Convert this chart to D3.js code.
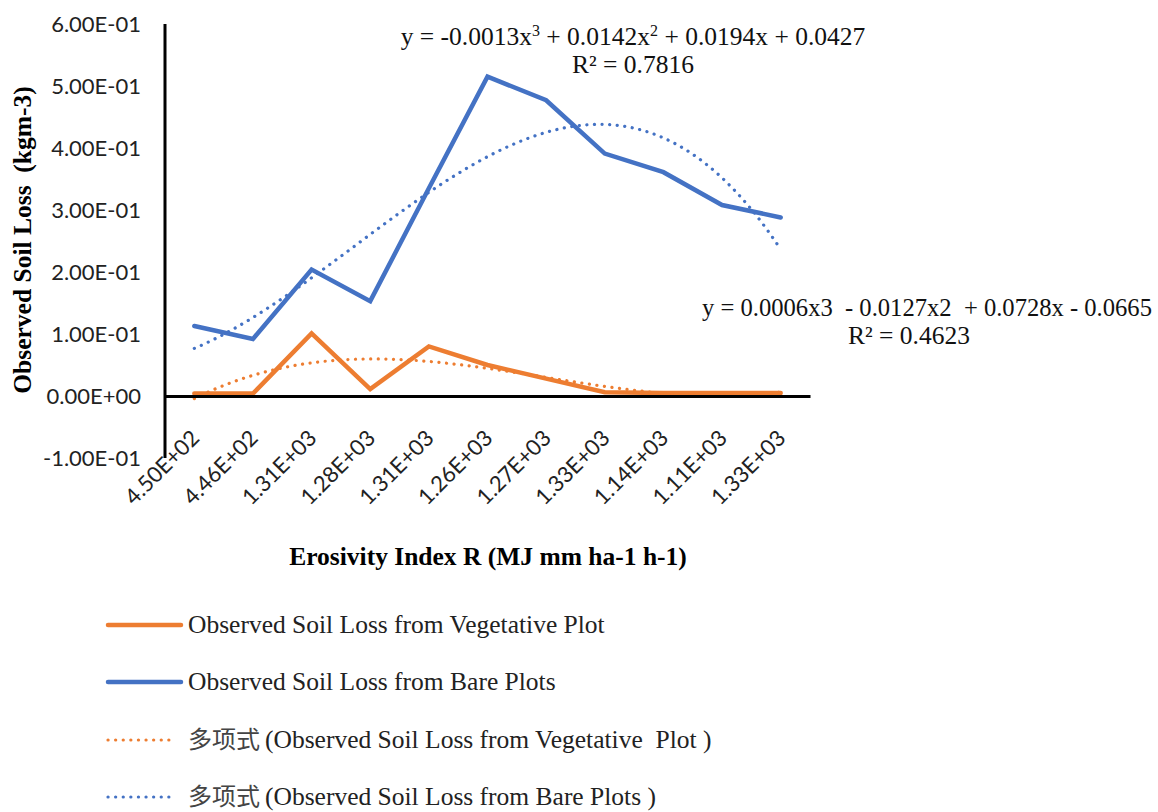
<!DOCTYPE html>
<html>
<head>
	<meta charset="utf-8">
	<title>Observed Soil Loss</title>
	<script src="https://d3js.org/d3.v7.min.js"></script>
	<style>
		body { margin: 0; background: #fff; }
	</style>
</head>
<body>
<section id="container"></section>
<script>

//Chart data
var categories = ["4.50E+02","4.46E+02","1.31E+03","1.28E+03","1.31E+03","1.26E+03","1.27E+03","1.33E+03","1.14E+03","1.11E+03","1.33E+03"];
var vegetative = [0.004, 0.004, 0.101, 0.011, 0.080, 0.050, 0.028, 0.006, 0.005, 0.005, 0.005];
var bare = [0.113, 0.092, 0.204, 0.153, 0.335, 0.515, 0.477, 0.391, 0.361, 0.308, 0.288];
var yTicks = [-0.1, 0, 0.1, 0.2, 0.3, 0.4, 0.5, 0.6];
var yTickLabels = ["-1.00E-01","0.00E+00","1.00E-01","2.00E-01","3.00E-01","4.00E-01","5.00E-01","6.00E-01"];
var legendLabels = ["Observed Soil Loss from Vegetative Plot","Observed Soil Loss from Bare Plots","多项式 (Observed Soil Loss from Vegetative  Plot )","多项式 (Observed Soil Loss from Bare Plots )"];

var orange = "#ED7D31";
var blue = "#4472C4";
var serif = "'Liberation Serif', 'Times New Roman', serif";
var sans = "Lato, 'Liberation Sans', sans-serif";
var textSize = 25.5;
var dots = "0.1 7.5";

var width = 1158, height = 812;

var svg = d3.select("#container")
	.append("svg")
	.attr("width", width)
	.attr("height", height);

//Scales
var x = d3.scaleBand()
	.domain(d3.range(categories.length))
	.range([165, 810]);

var y = d3.scaleLinear()
	.domain([-0.1, 0.6])
	.range([458, 24]);

var cx = function(i) { return x(i) + x.bandwidth() / 2; };

//Cubic least squares fit (Excel polynomial trendline, order 3)
var polyFit = function(vals) {
	var n = 4, A = [], b = [];
	for (var r = 0; r < n; r++) {
		A.push([]);
		b.push(0);
		for (var c = 0; c < n; c++) A[r].push(0);
	}
	vals.forEach(function(v, i) {
		var xi = i + 1;
		for (var r = 0; r < n; r++) {
			for (var c = 0; c < n; c++) A[r][c] += Math.pow(xi, r + c);
			b[r] += v * Math.pow(xi, r);
		}
	});
	//gaussian elimination
	for (var k = 0; k < n; k++) {
		for (var r = k + 1; r < n; r++) {
			var f = A[r][k] / A[k][k];
			for (var c = k; c < n; c++) A[r][c] -= f * A[k][c];
			b[r] -= f * b[k];
		}
	}
	var coef = [0, 0, 0, 0];
	for (var k = n - 1; k >= 0; k--) {
		var s = b[k];
		for (var c = k + 1; c < n; c++) s -= A[k][c] * coef[c];
		coef[k] = s / A[k][k];
	}
	return function(t) {
		return coef[0] + coef[1] * t + coef[2] * t * t + coef[3] * t * t * t;
	};
};

//Y axis tick labels
var yAxis = d3.axisLeft(y)
	.tickValues(yTicks)
	.tickSize(0)
	.tickPadding(24)
	.tickFormat(function(d, i) { return yTickLabels[i]; });

var gy = svg.append("g")
	.attr("transform", "translate(165,0)")
	.call(yAxis);
gy.select(".domain").remove();
gy.selectAll("text")
	.attr("font-family", sans)
	.attr("font-size", 22)
	.attr("fill", "#222");

//Trend lines
var fitLine = d3.line()
	.x(function(d) { return x(0) + x.bandwidth() / 2 + (d.t - 1) * x.step(); })
	.y(function(d) { return y(d.v); });

var drawTrend = function(vals, color) {
	var f = polyFit(vals);
	var pts = d3.range(1, vals.length + 0.001, 0.05).map(function(t) {
		return { t: t, v: f(t) };
	});
	svg.append("path")
		.datum(pts)
		.attr("d", fitLine)
		.attr("fill", "none")
		.attr("stroke", color)
		.attr("stroke-width", 3.2)
		.attr("stroke-linecap", "round")
		.attr("stroke-dasharray", dots);
};

//Series lines
var seriesLine = d3.line()
	.x(function(d, i) { return cx(i); })
	.y(function(d) { return y(d); });

var drawSeries = function(vals, color) {
	svg.append("path")
		.datum(vals)
		.attr("d", seriesLine)
		.attr("fill", "none")
		.attr("stroke", color)
		.attr("stroke-width", 4.5)
		.attr("stroke-linecap", "round");
};

drawSeries(bare, blue);
drawTrend(bare, blue);
drawSeries(vegetative, orange);
drawTrend(vegetative, orange);

//Axis lines
svg.append("line")
	.attr("x1", 165).attr("x2", 165)
	.attr("y1", y(0.6)).attr("y2", y(-0.1))
	.attr("stroke", "#000").attr("stroke-width", 3);

var xAxis = d3.axisBottom(x)
	.tickSize(0)
	.tickPadding(0)
	.tickFormat(function(d) { return categories[d]; });

var gx = svg.append("g")
	.attr("transform", "translate(0," + y(0) + ")")
	.call(xAxis);
gx.select(".domain")
	.attr("stroke", "#000")
	.attr("stroke-width", 3);
gx.selectAll("text")
	.attr("font-family", sans)
	.attr("font-size", 22)
	.attr("fill", "#222")
	.attr("text-anchor", "end")
	.attr("dy", "0.35em")
	.attr("transform", "translate(1,38) rotate(-45)");

//Axis titles
svg.append("text")
	.attr("transform", "translate(31,240) rotate(-90)")
	.attr("text-anchor", "middle")
	.attr("font-family", serif)
	.attr("font-weight", "bold")
	.attr("font-size", textSize)
	.attr("xml:space", "preserve")
	.text("Observed Soil Loss  (kgm-3)");

svg.append("text")
	.attr("x", 488)
	.attr("y", 565)
	.attr("text-anchor", "middle")
	.attr("font-family", serif)
	.attr("font-weight", "bold")
	.attr("font-size", textSize)
	.text("Erosivity Index R (MJ mm ha-1 h-1)");

//Trendline equations
var eq1 = svg.append("text")
	.attr("x", 633)
	.attr("y", 45)
	.attr("text-anchor", "middle")
	.attr("font-family", serif)
	.attr("font-size", textSize)
	.attr("fill", "#111")
	.attr("xml:space", "preserve");
eq1.append("tspan").text("y = -0.0013x");
eq1.append("tspan").attr("dy", -9).attr("font-size", 16).text("3");
eq1.append("tspan").attr("dy", 9).text(" + 0.0142x");
eq1.append("tspan").attr("dy", -9).attr("font-size", 16).text("2");
eq1.append("tspan").attr("dy", 9).text(" + 0.0194x + 0.0427");

svg.append("text")
	.attr("x", 633)
	.attr("y", 73)
	.attr("text-anchor", "middle")
	.attr("font-family", serif)
	.attr("font-size", textSize)
	.attr("fill", "#111")
	.text("R² = 0.7816");

svg.append("text")
	.attr("x", 927)
	.attr("y", 316)
	.attr("text-anchor", "middle")
	.attr("font-family", serif)
	.attr("font-size", 24.6)
	.attr("fill", "#111")
	.attr("xml:space", "preserve")
	.text("y = 0.0006x3  - 0.0127x2  + 0.0728x - 0.0665");

svg.append("text")
	.attr("x", 909)
	.attr("y", 344)
	.attr("text-anchor", "middle")
	.attr("font-family", serif)
	.attr("font-size", textSize)
	.attr("fill", "#111")
	.text("R² = 0.4623");

//Legend
var legendY = [625, 682, 740, 797];
var legendColor = [orange, blue, orange, blue];
var legend = svg.append("g");

legendLabels.forEach(function(label, i) {
	var dotted = i >= 2;
	legend.append("line")
		.attr("x1", 108).attr("x2", dotted ? 176 : 181)
		.attr("y1", legendY[i]).attr("y2", legendY[i])
		.attr("stroke", legendColor[i])
		.attr("stroke-width", dotted ? 3.2 : 4.5)
		.attr("stroke-linecap", "round")
		.attr("stroke-dasharray", dotted ? dots : null);
	var t = legend.append("text")
		.attr("x", 188)
		.attr("y", legendY[i] + 8)
		.attr("font-family", serif)
		.attr("font-size", textSize)
		.attr("fill", "#222")
		.attr("xml:space", "preserve");
	if (dotted) {
		t.append("tspan")
			.attr("font-family", "'Noto Sans CJK SC', sans-serif")
			.attr("font-size", 24)
			.attr("fill", "#444")
			.text("多项式");
		t.append("tspan").attr("dx", 5).text(label.slice(4));
	} else {
		t.text(label);
	}
});

</script>
</body>
</html>
